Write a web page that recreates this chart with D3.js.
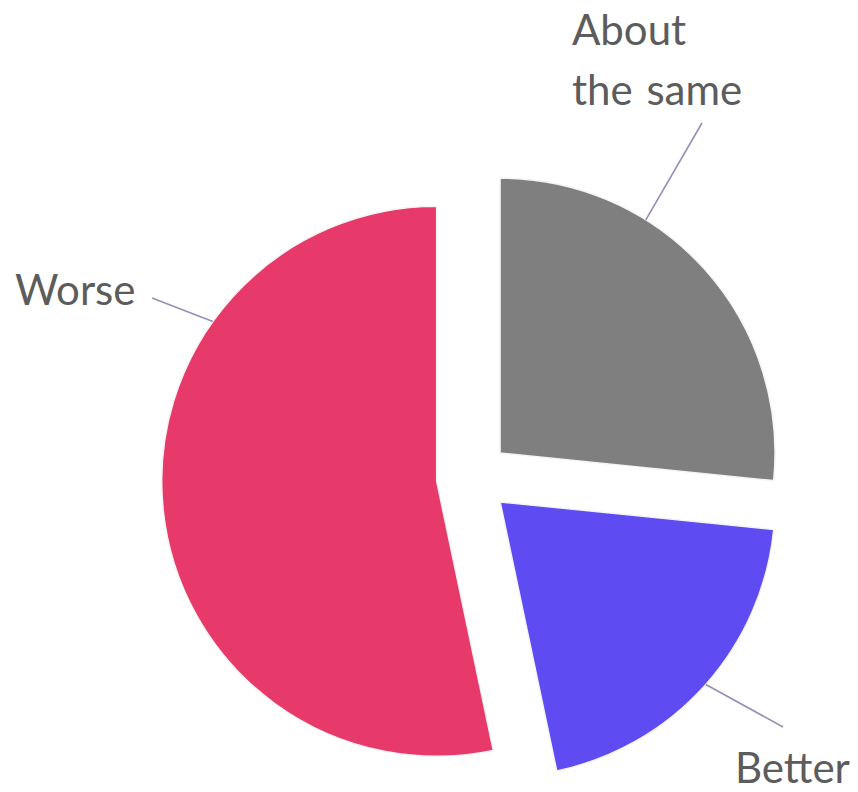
<!DOCTYPE html>
<html>
<head>
<meta charset="utf-8">
<script src="https://cdn.jsdelivr.net/npm/d3@7"></script>
<style>
  body { margin: 0; background: #ffffff; }
  svg { display: block; }
</style>
</head>
<body>
<svg id="chart" width="858" height="792"></svg>
<script>
// slice data, clockwise from 12 o'clock
var categories = ["About the same", "Better", "Worse"];
var shares = [26.6, 20.1, 53.3];
var colors = ["#7f7f7f", "#5e4bf2", "#e83a6a"];

// label layout: angle on the slice where the leader starts (deg), leader end, text lines
var labelAngles = [32, 131.6, 305.5];
var labelLines = [["About", "the same"], ["Better"], ["Worse"]];

document.addEventListener('DOMContentLoaded', function () {
    var cx = 473, cy = 477.5;
    var radius = 275;
    var explode = 36.5;

    var svg = d3.select('#chart');
    var g = svg.append('g').attr('transform', 'translate(' + cx + ', ' + cy + ')');

    var data = categories.map(function (c, i) {
        return { name: c, value: shares[i], color: colors[i], labelAngle: labelAngles[i] };
    });

    var pie = d3.pie().sort(null).value(function (d) { return d.value; });
    var arc = d3.arc().innerRadius(0).outerRadius(radius);
    var arcs = pie(data);

    function offset(d) {
        var mid = (d.startAngle + d.endAngle) / 2;
        return [Math.sin(mid) * explode, -Math.cos(mid) * explode];
    }

    var slice = g.selectAll('.slice')
        .data(arcs)
        .enter()
        .append('g')
        .attr('class', 'slice')
        .attr('transform', function (d) {
            var o = offset(d);
            return 'translate(' + o[0] + ', ' + o[1] + ')';
        });

    slice.append('path')
        .attr('d', arc)
        .attr('fill', function (d) { return d.data.color; })
        .attr('stroke', '#f4f4f4')
        .attr('stroke-width', 1.5);

    // leader lines: start on the slice edge, end near the label
    var leaderEnds = [[702, 123], [783, 727], [152, 298]];
    var textPos = [[572, 45], [735, 783], [15, 305]];

    arcs.forEach(function (d, i) {
        var o = offset(d);
        var a = d.data.labelAngle * Math.PI / 180;
        var x0 = cx + o[0] + Math.sin(a) * radius;
        var y0 = cy + o[1] - Math.cos(a) * radius;
        svg.append('line')
            .attr('x1', x0).attr('y1', y0)
            .attr('x2', leaderEnds[i][0]).attr('y2', leaderEnds[i][1])
            .attr('stroke', '#9090b8')
            .attr('stroke-width', 1.6);

        var t = svg.append('text')
            .attr('x', textPos[i][0])
            .attr('y', textPos[i][1])
            .attr('font-family', 'Lato, sans-serif')
            .attr('font-size', 42)
            .attr('word-spacing', 3)
            .attr('fill', '#5c5c5c');
        labelLines[i].forEach(function (line, j) {
            t.append('tspan')
                .attr('x', textPos[i][0])
                .attr('dy', j == 0 ? 0 : 60)
                .text(line);
        });
    });
});
</script>
</body>
</html>
